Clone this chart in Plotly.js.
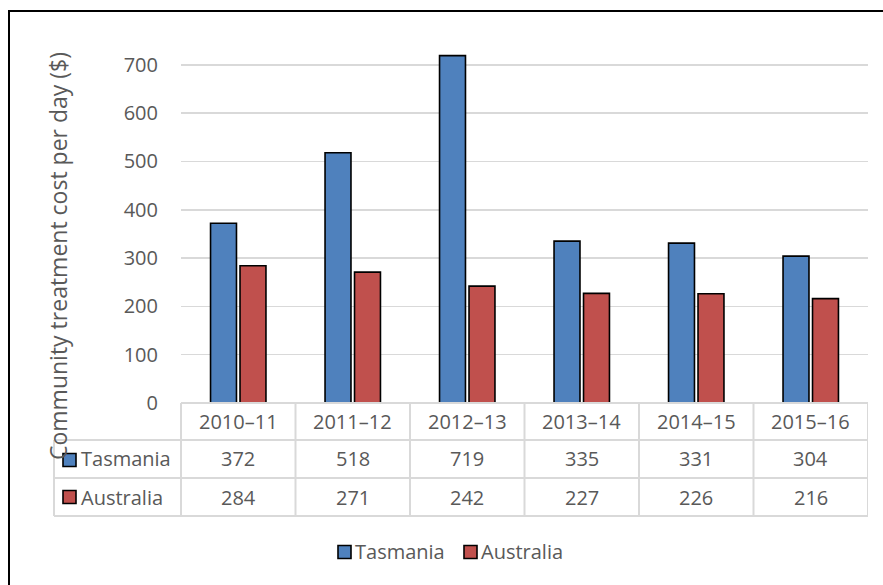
<!DOCTYPE html>
<html>
<head>
<meta charset="utf-8">
<script src="https://cdn.plot.ly/plotly-3.0.1.min.js"></script>
<style>
  html, body { margin: 0; padding: 0; background: #fff; overflow: hidden; }
  #chart { width: 883px; height: 585px; position: relative; }
  #frame { position: absolute; left: 8px; top: 10px; width: 1000px; height: 1000px;
           border: 2px solid #000; pointer-events: none; box-sizing: border-box; }
</style>
</head>
<body>
<div id="chart"></div>
<div id="frame"></div>
<script>
// Community treatment cost per day ($), by financial year
const years = ['2010–11', '2011–12', '2012–13', '2013–14', '2014–15', '2015–16'];
const tasmania = [372, 518, 719, 335, 331, 304];
const australia = [284, 271, 242, 227, 226, 216];
const seriesNames = ['Tasmania', 'Australia'];
const yTicks = [0, 100, 200, 300, 400, 500, 600, 700];

const W = 883, H = 585;
const M = { l: 181, r: 15, t: 46, b: 182 };
const plotW = W - M.l - M.r;
const plotH = H - M.t - M.b;
const axisY = H - M.b; // pixel row of the zero line

// pixel -> paper helpers for the data table and key drawn under the axis
const px = X => (X - M.l) / plotW;
const py = Y => (axisY - Y) / plotH;

const textColor = '#595959';
const gridColor = '#d9d9d9';
const colors = ['#4F81BD', '#C0504D'];
const font = 'Open Sans, Noto Sans, sans-serif';

const traces = [tasmania, australia].map((vals, i) => ({
  type: 'bar',
  name: seriesNames[i],
  x: years,
  y: vals,
  marker: { color: colors[i], line: { color: '#000', width: 1.6 } },
  hoverinfo: 'skip'
}));

// data table grid
const rowTop = [403, 440, 478, 516];
const shapes = [];
const line = (x0, y0, x1, y1, xref) => shapes.push({
  type: 'line', xref: xref || 'paper', yref: 'paper', x0, y0, x1, y1,
  line: { color: gridColor, width: 2 }, layer: 'above'
});
line(0, py(rowTop[0]), 1, py(rowTop[0]));
for (let r = 1; r < rowTop.length; r++) line(px(54), py(rowTop[r]), 1, py(rowTop[r]));
line(px(54), py(rowTop[1]), px(54), py(rowTop[3]));
line(0, py(rowTop[0]), 0, py(rowTop[3]));
for (let i = 0; i < years.length; i++) {
  line(i + 0.5, py(rowTop[0]), i + 0.5, py(rowTop[3]), 'x');
}

// coloured key squares: table row headers and the key below the table
const keyBox = (x, yMid, i) => shapes.push({
  type: 'rect', xref: 'paper', yref: 'paper',
  x0: px(x), x1: px(x + 13), y0: py(yMid - 6.5), y1: py(yMid + 6.5),
  fillcolor: colors[i], line: { color: '#000', width: 1.6 }, layer: 'above'
});
keyBox(63, 460, 0);
keyBox(63, 497, 1);
keyBox(338, 552, 0);
keyBox(464, 552, 1);

const annotations = [];
const rowMid = [421.5, 459, 497];
const cellFont = { family: font, size: 20, color: textColor };
const addText = (xref, x, y, text, anchor) => annotations.push({
  xref, yref: 'paper', x, y, text, showarrow: false, font: cellFont,
  xanchor: anchor || 'center', yanchor: 'middle'
});
years.forEach((yr, i) => {
  addText('x', i, py(rowMid[0]), yr);
  addText('x', i, py(rowMid[1]), String(tasmania[i]));
  addText('x', i, py(rowMid[2]), String(australia[i]));
});
seriesNames.forEach((n, i) => addText('paper', px(79), py(rowMid[i + 1]), n, 'left'));
addText('paper', px(353), py(551), seriesNames[0], 'left');
addText('paper', px(479), py(551), seriesNames[1], 'left');

// vertical axis title
annotations.push({
  xref: 'paper', yref: 'paper', x: px(58), y: py(256),
  text: 'Community treatment cost per day ($)', textangle: -90,
  showarrow: false, font: { family: font, size: 23, color: textColor },
  xanchor: 'center', yanchor: 'middle'
});

const layout = {
  width: W, height: H,
  margin: M,
  paper_bgcolor: 'rgba(0,0,0,0)',
  plot_bgcolor: 'rgba(0,0,0,0)',
  barmode: 'group',
  bargap: 0.485,
  bargroupgap: 0.12,
  showlegend: false,
  xaxis: {
    type: 'category', range: [-0.5, years.length - 0.5],
    showticklabels: false, ticks: '', showgrid: false, zeroline: false, showline: false,
    fixedrange: true
  },
  yaxis: {
    range: [0, 739], tickvals: yTicks, ticktext: yTicks.map(String),
    showgrid: true, gridcolor: gridColor, gridwidth: 1.5,
    zeroline: false, showline: false, ticks: '',
    ticklabelstandoff: 22,
    tickfont: { family: font, size: 20, color: textColor },
    fixedrange: true
  },
  shapes, annotations
};

Plotly.newPlot('chart', traces, layout, { displayModeBar: false, staticPlot: true });
</script>
</body>
</html>
